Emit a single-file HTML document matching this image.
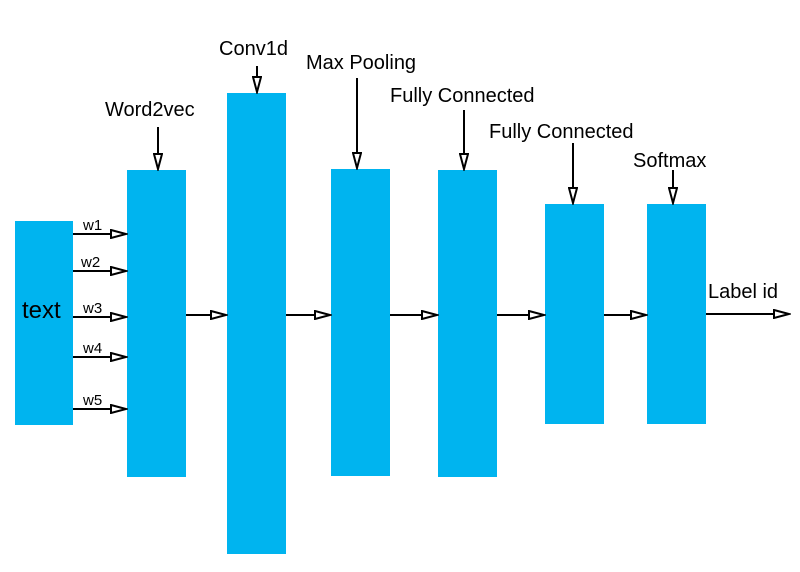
<!DOCTYPE html>
<html><head><meta charset="utf-8"><style>body{margin:0;background:#fff}svg{display:block;font-family:"Liberation Sans","DejaVu Sans",sans-serif}</style></head>
<body>
<svg width="800" height="572" viewBox="0 0 800 572">
<defs><marker id="ah" markerWidth="18" markerHeight="10" refX="16" refY="5" orient="auto" markerUnits="userSpaceOnUse"><path d="M1,1 L16,5 L1,9 Z" fill="#fff" stroke="#000" stroke-width="2"/></marker></defs>
<g fill="#00b4ef">
<rect x="15" y="221" width="58" height="204"/>
<rect x="127" y="170" width="59" height="307"/>
<rect x="227" y="93" width="59" height="461"/>
<rect x="331" y="169" width="59" height="307"/>
<rect x="438" y="170" width="59" height="307"/>
<rect x="545" y="204" width="59" height="220"/>
<rect x="647" y="204" width="59" height="220"/>
</g>
<g stroke="#000" stroke-width="2" marker-end="url(#ah)">
<line x1="73" y1="234" x2="126" y2="234"/>
<line x1="73" y1="271" x2="126" y2="271"/>
<line x1="73" y1="317" x2="126" y2="317"/>
<line x1="73" y1="357" x2="126" y2="357"/>
<line x1="73" y1="409" x2="126" y2="409"/>
<line x1="186" y1="315" x2="226" y2="315"/>
<line x1="286" y1="315" x2="330" y2="315"/>
<line x1="390" y1="315" x2="437" y2="315"/>
<line x1="497" y1="315" x2="544" y2="315"/>
<line x1="604" y1="315" x2="646" y2="315"/>
<line x1="706" y1="314" x2="789" y2="314"/>
<line x1="158" y1="127" x2="158" y2="169"/>
<line x1="257" y1="66" x2="257" y2="92"/>
<line x1="357" y1="78" x2="357" y2="168"/>
<line x1="464" y1="110" x2="464" y2="169"/>
<line x1="573" y1="143" x2="573" y2="203"/>
<line x1="673" y1="170" x2="673" y2="203"/>
</g>
<g fill="#000" font-size="20">
<text x="22" y="318" font-size="24">text</text>
<text x="83" y="230" font-size="15">w1</text>
<text x="81" y="267" font-size="15">w2</text>
<text x="83" y="313" font-size="15">w3</text>
<text x="83" y="353" font-size="15">w4</text>
<text x="83" y="405" font-size="15">w5</text>
<text x="105" y="116">Word2vec</text>
<text x="219" y="55">Conv1d</text>
<text x="306" y="69">Max Pooling</text>
<text x="390" y="102">Fully Connected</text>
<text x="489" y="138">Fully Connected</text>
<text x="633" y="167">Softmax</text>
<text x="708" y="298">Label id</text>
</g>
</svg>
</body></html>
